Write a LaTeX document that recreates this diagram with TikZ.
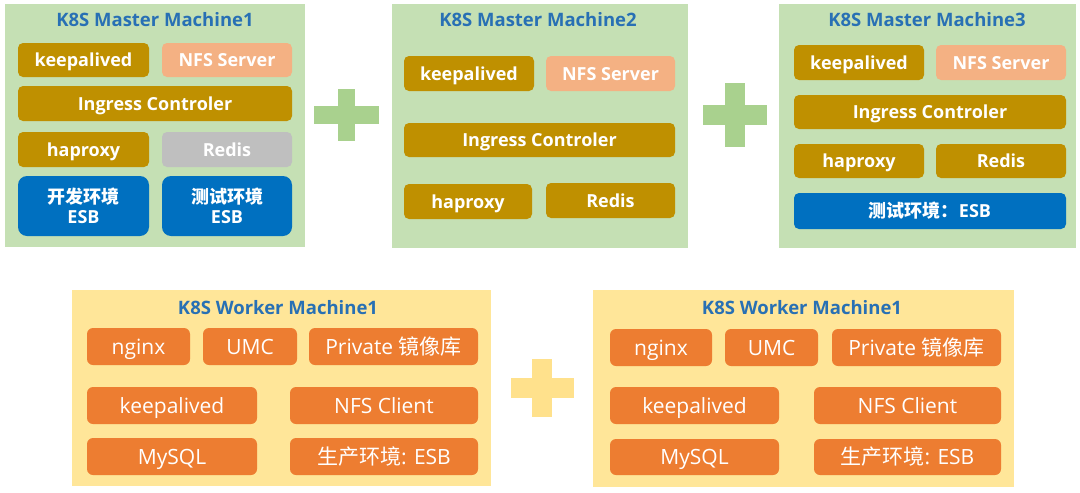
\documentclass[tikz,border=0pt]{standalone}
\usepackage{fontspec}
\setmainfont{Open Sans}
\newfontfamily\cjk{Noto Sans CJK SC}
\definecolor{pgreen}{HTML}{C5E0B4}
\definecolor{pyellow}{HTML}{FFE699}
\definecolor{plusgreen}{HTML}{A9D18E}
\definecolor{plusyellow}{HTML}{FFE18C}
\definecolor{gold}{HTML}{BF9000}
\definecolor{salmon}{HTML}{F4B183}
\definecolor{grayb}{HTML}{BFBFBF}
\definecolor{blueb}{HTML}{0070C0}
\definecolor{orangeb}{HTML}{ED7D31}
\definecolor{titleblue}{HTML}{2870B4}
\newcommand\bx[7]{\node[#6, minimum width={(#4-#2)*1pt}, minimum height={(#5-#3)*1pt}] (#1) at ({(#2+#4)/2},{(#3+#5)/2}) {#7};}
\tikzset{
  panel/.style={fill=#1, draw=none, inner sep=0pt, outer sep=0pt},
  topbox/.style={fill=#1, draw=none, rounded corners=5pt, inner sep=0pt, outer sep=0pt, text=white, text height=13pt, text depth=0pt, font=\fontsize{18}{21}\selectfont\bfseries},
  bluebox/.style={fill=blueb, draw=none, rounded corners=9pt, inner sep=0pt, outer sep=0pt, text=white, align=center, font=\fontsize{18}{20}\selectfont\bfseries},
  botbox/.style={fill=orangeb, draw=none, rounded corners=6pt, inner sep=0pt, outer sep=0pt, text=white, text height=15pt, text depth=0pt, font=\fontsize{21}{24}\selectfont},
  ptitle/.style={text=titleblue, inner sep=0pt, text height=13.3pt, text depth=0pt, font=\fontsize{18.5}{21}\selectfont\bfseries},
}
\begin{document}
\begin{tikzpicture}[x=1pt,y=-1pt]
\useasboundingbox (0,0) rectangle (1080,493);
% panels
\bx{m1}{5}{4}{305}{247}{panel=pgreen}{}
\bx{m2}{392}{4}{688}{248}{panel=pgreen}{}
\bx{m3}{779}{4}{1076}{248}{panel=pgreen}{}
\bx{w1}{72}{290}{491}{486}{panel=pyellow}{}
\bx{w2}{593}{290}{1014}{487}{panel=pyellow}{}
% titles
\node[ptitle] (t1) at (155,20) {K8S Master Machine1};
\node[ptitle] (t2) at (538,20) {K8S Master Machine2};
\node[ptitle] (t3) at (927,20) {K8S Master Machine3};
\node[ptitle] (t4) at (278,308) {K8S Worker Machine1};
\node[ptitle] (t5) at (802,308) {K8S Worker Machine1};
% master 1
\bx{a1}{18}{43}{149}{77}{topbox=gold}{keepalived}
\bx{a2}{162}{43}{292}{77}{topbox=salmon}{NFS Server}
\bx{a3}{18}{86}{292}{121}{topbox=gold}{Ingress Controler}
\bx{a4}{18}{132}{149}{167}{topbox=gold}{haproxy}
\bx{a5}{162}{132}{292}{167}{topbox=grayb}{Redis}
\bx{a6}{18}{176}{149}{236}{bluebox}{{\cjk 开发环境}\\ESB}
\bx{a7}{162}{176}{292}{236}{bluebox}{{\cjk 测试环境}\\ESB}
% master 2
\bx{b1}{404}{56}{534}{91}{topbox=gold}{keepalived}
\bx{b2}{546}{56}{675}{91}{topbox=salmon}{NFS Server}
\bx{b3}{404}{123}{675}{157}{topbox=gold}{Ingress Controler}
\bx{b4}{404}{184}{532}{219}{topbox=gold}{haproxy}
\bx{b5}{546}{183}{675}{218}{topbox=gold}{Redis}
% master 3
\bx{c1}{794}{45}{924}{80}{topbox=gold}{keepalived}
\bx{c2}{936}{45}{1066}{80}{topbox=salmon}{NFS Server}
\bx{c3}{794}{95}{1066}{129}{topbox=gold}{Ingress Controler}
\bx{c4}{794}{144}{924}{178}{topbox=gold}{haproxy}
\bx{c5}{936}{144}{1066}{178}{topbox=gold}{Redis}
\bx{c6}{794}{193}{1066}{229}{topbox=blueb}{{\cjk 测试环境：}ESB}
% worker 1
\bx{d1}{87}{328}{190}{365}{botbox}{nginx}
\bx{d2}{203}{328}{297}{365}{botbox}{UMC}
\bx{d3}{309}{328}{478}{365}{botbox}{Private {\cjk 镜像库}}
\bx{d4}{87}{387}{257}{424}{botbox}{keepalived}
\bx{d5}{290}{387}{478}{424}{botbox}{NFS Client}
\bx{d6}{87}{438}{257}{475}{botbox}{MySQL}
\bx{d7}{290}{438}{478}{475}{botbox}{{\cjk 生产环境}: ESB}
% worker 2
\bx{e1}{610}{329}{712}{366}{botbox}{nginx}
\bx{e2}{725}{329}{818}{366}{botbox}{UMC}
\bx{e3}{832}{329}{1001}{366}{botbox}{Private {\cjk 镜像库}}
\bx{e4}{610}{387}{779}{424}{botbox}{keepalived}
\bx{e5}{814}{387}{1001}{424}{botbox}{NFS Client}
\bx{e6}{610}{439}{779}{475}{botbox}{MySQL}
\bx{e7}{814}{439}{1001}{475}{botbox}{{\cjk 生产环境}: ESB}
% plus signs
\fill[plusgreen] (314,106) rectangle (379,124);
\fill[plusgreen] (338,89) rectangle (355,141);
\fill[plusgreen] (703,105) rectangle (767,125);
\fill[plusgreen] (725,83) rectangle (745,147);
\fill[plusyellow] (511,378) rectangle (574,398);
\fill[plusyellow] (532,359) rectangle (552,417);
\end{tikzpicture}
\end{document}
